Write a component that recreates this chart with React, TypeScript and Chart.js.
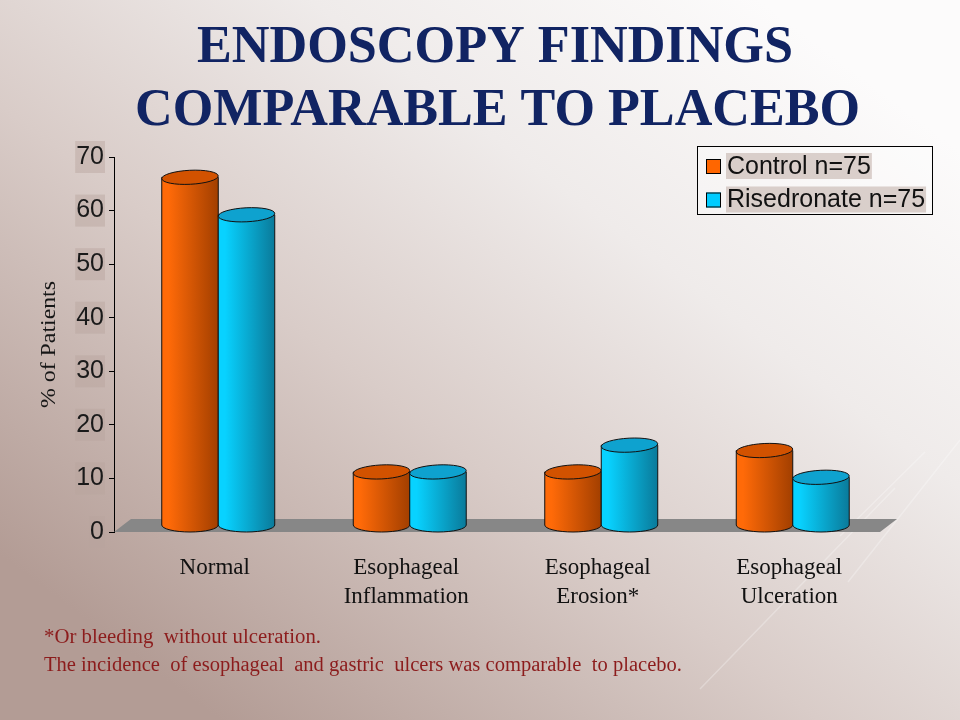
import React, { useEffect, useRef } from 'react';
import { Chart, registerables } from 'chart.js';

Chart.register(...registerables);

// ---------- data ----------
const categories: string[][] = [
  ['Normal'],
  ['Esophageal', 'Inflammation'],
  ['Esophageal', 'Erosion*'],
  ['Esophageal', 'Ulceration'],
];
const controlValues = [65, 10, 10, 14];
const risedronateValues = [58, 10, 15, 9];
const seriesLabels = ['Control n=75', 'Risedronate n=75'];
const yMin = 0;
const yMax = 70;
const yStep = 10;
const titleLines = ['ENDOSCOPY FINDINGS', 'COMPARABLE TO PLACEBO'];
const yAxisTitle = '% of Patients';
const footnoteLines = [
  '*Or bleeding  without ulceration.',
  'The incidence  of esophageal  and gastric  ulcers was comparable  to placebo.',
];

// ---------- styles ----------
const SERIF = '"Liberation Serif", "Times New Roman", serif';
const SANS = '"Liberation Sans", Arial, sans-serif';
const seriesStyles = [
  { swatch: '#ff6600', light: '#ff6a08', dark: '#a23f00', top: '#d25200' },
  { swatch: '#00ccff', light: '#08d2ff', dark: '#0a7a9a', top: '#0ea2cf' },
];
const DEPTH_X = 17;
const DEPTH_Y = 13;
const ELLIPSE_RY = 7;

function fitText(ctx: CanvasRenderingContext2D, text: string, x: number, y: number, targetW: number) {
  const w = ctx.measureText(text).width;
  const s = targetW / w;
  ctx.save();
  ctx.translate(x, y);
  ctx.scale(s, 1);
  ctx.fillText(text, 0, 0);
  ctx.restore();
}

const sceneryPlugin = {
  id: 'scenery',
  beforeDraw(chart: any) {
    const { ctx, width, height } = chart;
    ctx.save();
    const g = ctx.createLinearGradient(760, 0, 220, height);
    g.addColorStop(0, '#fcfbfb');
    g.addColorStop(0.3, '#efebea');
    g.addColorStop(0.6, '#d9ccc8');
    g.addColorStop(1, '#b39c95');
    ctx.fillStyle = g;
    ctx.fillRect(0, 0, width, height);

    // faint decorative strokes
    ctx.strokeStyle = 'rgba(255,255,255,0.28)';
    ctx.lineWidth = 1.5;
    ctx.beginPath();
    ctx.moveTo(700, 689);
    ctx.lineTo(895, 488);
    ctx.moveTo(848, 582);
    ctx.lineTo(960, 440);
    ctx.moveTo(840, 536);
    ctx.lineTo(925, 452);
    ctx.stroke();

    // title
    ctx.fillStyle = '#112463';
    ctx.font = `bold 53px ${SERIF}`;
    ctx.textAlign = 'left';
    ctx.textBaseline = 'alphabetic';
    fitText(ctx, titleLines[0], 197, 62, 596);
    fitText(ctx, titleLines[1], 135, 125, 725);

    // footnotes
    ctx.fillStyle = '#8c1c1c';
    ctx.font = `20px ${SERIF}`;
    fitText(ctx, footnoteLines[0], 44, 643, 277);
    fitText(ctx, footnoteLines[1], 44, 671, 638);
    ctx.restore();
  },
  beforeDatasetsDraw(chart: any) {
    const { ctx, chartArea } = chart;
    const y0 = chart.scales.y.getPixelForValue(0);
    ctx.save();
    ctx.fillStyle = '#878787';
    ctx.beginPath();
    ctx.moveTo(chartArea.left, y0);
    ctx.lineTo(chartArea.right, y0);
    ctx.lineTo(chartArea.right + DEPTH_X, y0 - DEPTH_Y);
    ctx.lineTo(chartArea.left + DEPTH_X, y0 - DEPTH_Y);
    ctx.closePath();
    ctx.fill();
    ctx.restore();
  },
  afterDatasetsDraw(chart: any) {
    const { ctx } = chart;
    ctx.save();
    ctx.lineWidth = 1;
    ctx.strokeStyle = '#111';
    chart.data.datasets.forEach((_ds: any, di: number) => {
      const meta = chart.getDatasetMeta(di);
      const st = seriesStyles[di];
      meta.data.forEach((el: any) => {
        const { x, y, base, width } = el.getProps(['x', 'y', 'base', 'width'], true);
        const left = x - width / 2 + DEPTH_X / 2;
        const right = left + width;
        const cx = x + DEPTH_X / 2;
        const rx = width / 2;
        const topC = y - DEPTH_Y / 2;
        const baseC = base - DEPTH_Y / 2;
        const grad = ctx.createLinearGradient(left, 0, right, 0);
        grad.addColorStop(0, st.light);
        grad.addColorStop(0.12, st.light);
        grad.addColorStop(1, st.dark);
        ctx.beginPath();
        ctx.moveTo(left, topC);
        ctx.lineTo(left, baseC);
        ctx.ellipse(cx, baseC, rx, ELLIPSE_RY, 0, Math.PI, 0, true);
        ctx.lineTo(right, topC);
        ctx.closePath();
        ctx.fillStyle = grad;
        ctx.fill();
        ctx.stroke();
        ctx.beginPath();
        ctx.ellipse(cx, topC, rx, ELLIPSE_RY, -0.05, 0, Math.PI * 2);
        ctx.fillStyle = st.top;
        ctx.fill();
        ctx.stroke();
      });
    });
    ctx.restore();
  },
  afterDraw(chart: any) {
    const { ctx, chartArea } = chart;
    ctx.save();
    // y axis title
    ctx.fillStyle = '#161616';
    ctx.font = `22px ${SERIF}`;
    ctx.textAlign = 'center';
    ctx.textBaseline = 'middle';
    ctx.translate(49, (chartArea.top + chartArea.bottom) / 2);
    ctx.rotate(-Math.PI / 2);
    const tw = ctx.measureText(yAxisTitle).width;
    ctx.scale(127 / tw, 1);
    ctx.fillText(yAxisTitle, 0, 0);
    ctx.restore();

    // legend
    ctx.save();
    const lx = 697, ly = 146, lw = 235, lh = 68;
    ctx.fillStyle = 'rgba(255,255,255,0.3)';
    ctx.fillRect(lx, ly, lw, lh);
    ctx.strokeStyle = '#000';
    ctx.lineWidth = 1;
    ctx.strokeRect(lx + 0.5, ly + 0.5, lw, lh);
    ctx.font = `25px ${SANS}`;
    ctx.textAlign = 'left';
    ctx.textBaseline = 'middle';
    chart.data.datasets.forEach((ds: any, i: number) => {
      const cy = 166 + i * 33.5;
      const w = ctx.measureText(ds.label).width;
      ctx.fillStyle = 'rgba(185,165,158,0.5)';
      ctx.fillRect(726, cy - 13, w + 2, 26);
      ctx.fillStyle = seriesStyles[i].swatch;
      ctx.fillRect(706, cy - 7, 15, 15);
      ctx.strokeStyle = '#000';
      ctx.strokeRect(706.5, cy - 6.5, 14, 14);
      ctx.fillStyle = '#111';
      ctx.fillText(ds.label, 727, cy + 1);
    });
    ctx.restore();
  },
};

export default function App() {
  const canvasRef = useRef<HTMLCanvasElement | null>(null);

  useEffect(() => {
    if (!canvasRef.current) return;
    const chart = new Chart(canvasRef.current, {
      type: 'bar',
      data: {
        labels: categories,
        datasets: [
          {
            label: seriesLabels[0],
            data: controlValues,
            backgroundColor: 'rgba(0,0,0,0)',
            borderWidth: 0,
          },
          {
            label: seriesLabels[1],
            data: risedronateValues,
            backgroundColor: 'rgba(0,0,0,0)',
            borderWidth: 0,
          },
        ],
      },
      options: {
        responsive: false,
        animation: false,
        events: [],
        layout: { padding: { left: 0, right: 80, top: 157, bottom: 0 } },
        datasets: { bar: { categoryPercentage: 0.59, barPercentage: 1 } },
        plugins: {
          legend: { display: false },
          tooltip: { enabled: false },
          title: { display: false },
        },
        scales: {
          x: {
            grid: { display: false },
            border: { display: false },
            ticks: {
              color: '#111',
              padding: 13,
              labelOffset: 5,
              maxRotation: 0,
              autoSkip: false,
              font: { family: SERIF, size: 23, lineHeight: 1.26 },
            },
            afterFit: (scale: any) => {
              scale.height = 188;
            },
          },
          y: {
            min: yMin,
            max: yMax,
            grid: {
              drawOnChartArea: false,
              drawTicks: true,
              tickLength: 5,
              color: '#000',
            },
            border: { display: true, color: '#000', width: 1 },
            ticks: {
              stepSize: yStep,
              color: '#1a1a1a',
              padding: 5,
              font: { family: SANS, size: 25 },
              showLabelBackdrop: true,
              backdropColor: 'rgba(185,165,158,0.45)',
              backdropPadding: 1,
            },
            afterFit: (scale: any) => {
              scale.width = 114;
            },
          },
        },
      },
      plugins: [sceneryPlugin],
    });
    return () => chart.destroy();
  }, []);

  return (
    <div style={{ position: 'fixed', left: 0, top: 0, width: 960, height: 720 }}>
      <canvas ref={canvasRef} width={960} height={720} style={{ display: 'block' }} />
    </div>
  );
}
